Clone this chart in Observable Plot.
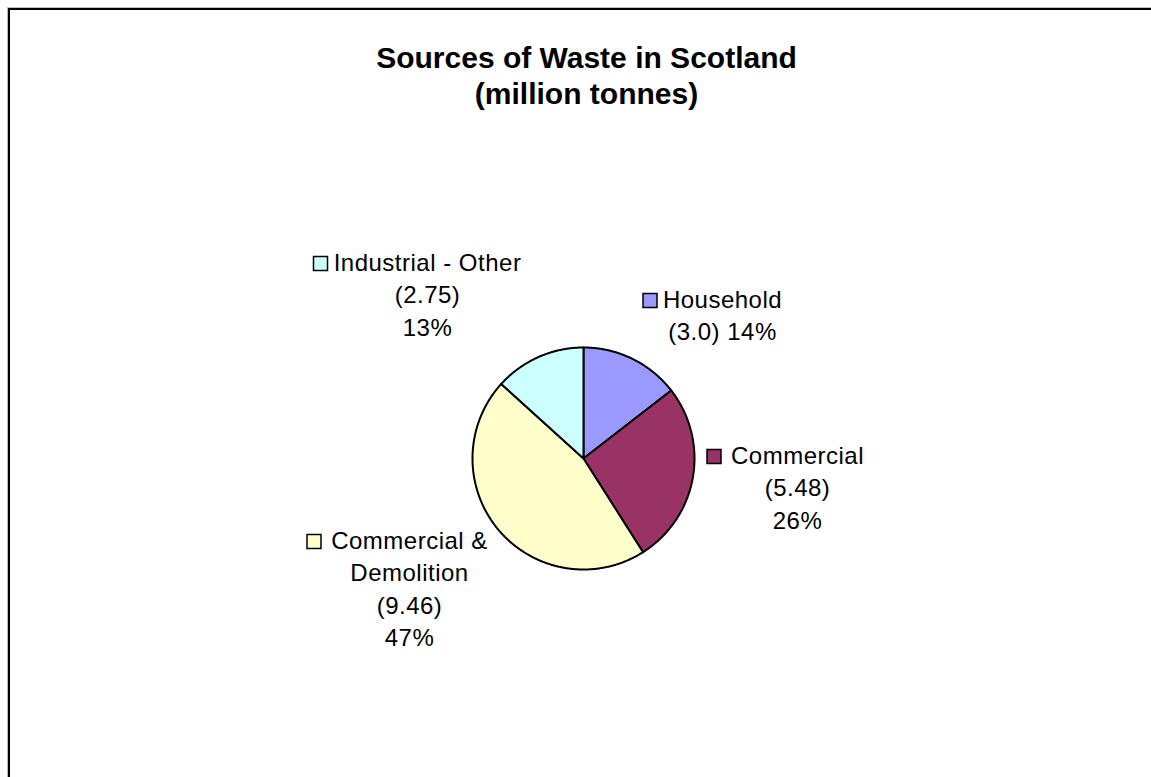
<!DOCTYPE html>
<html>
<head>
<meta charset="utf-8">
<script src="https://cdn.jsdelivr.net/npm/d3@7"></script>
<script src="https://cdn.jsdelivr.net/npm/@observablehq/plot@0.6"></script>
<style>
  html, body { margin: 0; padding: 0; background: #fff; overflow: hidden; }
  #wrap { position: relative; width: 1151px; height: 777px; }
  #chart { position: absolute; left: 0; top: 0; }
  #title { position: absolute; left: 11px; top: 0; width: 1151px; text-align: center;
           font-family: "Liberation Sans", Arial, sans-serif; font-weight: bold;
           font-size: 30px; line-height: 36px; padding-top: 40px; color: #000; }
  #border { position: absolute; left: 8px; top: 8px; width: 1400px; height: 1000px;
            border-left: 2px solid #000; border-top: 2px solid #000; pointer-events: none;
            box-shadow: -1px -1px 0 #bbb; }
</style>
</head>
<body>
<div id="wrap">
  <div id="chart"></div>
  <div id="title">Sources of Waste in Scotland<br>(million tonnes)</div>
  <div id="border"></div>
</div>
<script>
// ---- data ----
const categories = ["Household", "Commercial", "Commercial & Demolition", "Industrial - Other"];
const values = [3.0, 5.48, 9.46, 2.75];
const valueLabels = ["(3.0)", "(5.48)", "(9.46)", "(2.75)"];
const percentLabels = ["14%", "26%", "47%", "13%"];
const colors = ["#9999FF", "#993366", "#FFFFCC", "#CCFFFF"];

// ---- label text lines (as wrapped in the original) ----
const labelLines = [
  ["Household", "(3.0) 14%"],
  ["Commercial", "(5.48)", "26%"],
  ["Commercial &", "Demolition", "(9.46)", "47%"],
  ["Industrial - Other", "(2.75)", "13%"]
];

// ---- layout (pixel space) ----
const W = 1151, H = 777;
const pie = {cx: 583, cy: 458, r: 111};
const labelLayout = [
  {cx: 722, base: 307, sqx: 649.5},
  {cx: 797, base: 463, sqx: 713.5},
  {cx: 409, base: 548, sqx: 313.5},
  {cx: 427, base: 270, sqx: 320}
];
const lineGap = 32.5;
const fontFamily = "Liberation Sans, Arial, sans-serif";

// ---- slice geometry from values ----
const total = d3.sum(values);
let acc = 0;
const slicePts = [];
values.forEach((v, i) => {
  const a0 = acc / total * 2 * Math.PI;
  acc += v;
  const a1 = acc / total * 2 * Math.PI;
  const n = Math.max(2, Math.ceil((a1 - a0) / (Math.PI / 360)));
  slicePts.push({slice: i, x: pie.cx, y: pie.cy});
  for (let k = 0; k <= n; k++) {
    const a = a0 + (a1 - a0) * k / n;
    slicePts.push({slice: i, x: pie.cx + pie.r * Math.sin(a), y: pie.cy - pie.r * Math.cos(a)});
  }
  slicePts.push({slice: i, x: pie.cx, y: pie.cy});
});

// ---- label rows ----
const textRows = [];
labelLines.forEach((lines, i) => {
  lines.forEach((t, j) => {
    textRows.push({x: labelLayout[i].cx, y: labelLayout[i].base + j * lineGap, text: t});
  });
});
const squares = categories.map((c, i) => ({x: labelLayout[i].sqx, y: labelLayout[i].base - 7, color: colors[i]}));

const sliceMarks = values.map((v, i) =>
  Plot.line(slicePts.filter(d => d.slice === i), {
    x: "x", y: "y", fill: colors[i], stroke: "#000", strokeWidth: 2, strokeLinejoin: "round", curve: "linear"
  })
);

const chart = Plot.plot({
  width: W, height: H,
  margin: 0,
  x: {domain: [0, W], range: [0, W], axis: null},
  y: {domain: [0, H], range: [0, H], axis: null},
  style: {background: "white", overflow: "visible", letterSpacing: "0.5px"},
  marks: [
    ...sliceMarks,
    Plot.dot(squares, {x: "x", y: "y", symbol: "square", r: 14 / Math.sqrt(Math.PI), fill: d => d.color, stroke: "#000", strokeWidth: 1.5}),
    Plot.text(textRows, {
      x: "x", y: "y", text: "text", textAnchor: "middle", lineAnchor: "bottom",
      fontSize: 24, fontFamily, fill: "#000"
    })
  ]
});
document.getElementById("chart").appendChild(chart);
</script>
</body>
</html>
